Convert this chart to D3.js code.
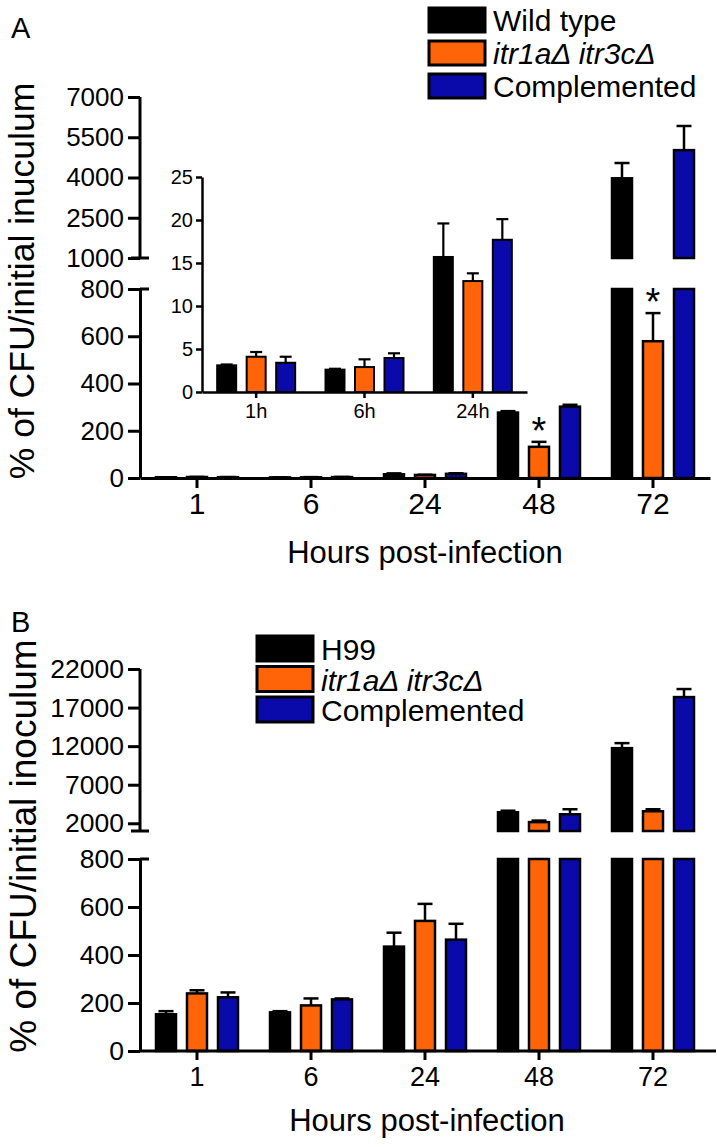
<!DOCTYPE html>
<html>
<head>
<meta charset="utf-8">
<script src="https://cdn.jsdelivr.net/npm/d3@7"></script>
<style>
body{margin:0;background:#fff;}
svg{display:block;font-family:"Liberation Sans",Arial,Helvetica,sans-serif;}
</style>
</head>
<body>
<svg id="chart" width="717" height="1147"></svg>
<script>
//CFU survival bar charts with broken y axis (panel A + inset, panel B)

//x categories
var hours = ["1","6","24","48","72"];
var insetHours = ["1h","6h","24h"];
var barColors = ["#000000","#FF6508","#0A0AAA"];

//panel A : % of CFU / initial inoculum
var namesA = ["Wild type","itr1a\u0394 itr3c\u0394","Complemented"];
var wtA      = [3.1, 2.6, 15.7, 277, 3970];
var wtErrA   = [0.1, 0.1, 3.9, 6, 570];
var mutA     = [4.1, 2.9, 12.9, 132, 579];
var mutErrA  = [0.55, 0.9, 0.9, 21, 119];
var compA    = [3.4, 3.95, 17.7, 302, 5020];
var compErrA = [0.7, 0.55, 2.4, 8, 900];
var lowTicksA  = [0, 200, 400, 600, 800];
var highTicksA = [1000, 2500, 4000, 5500, 7000];
var insetTicks = [0, 5, 10, 15, 20, 25];
var starsA = ["48", "72"];   //significant mutant bars

//panel B
var namesB = ["H99","itr1a\u0394 itr3c\u0394","Complemented"];
var wtB      = [153, 161, 435, 3430, 11740];
var wtErrB   = [13, 5, 58, 200, 650];
var mutB     = [240, 190, 542, 2150, 3560];
var mutErrB  = [13, 29, 71, 200, 260];
var compB    = [224, 215, 464, 3170, 18360];
var compErrB = [20, 4, 66, 650, 1040];
var lowTicksB  = [0, 200, 400, 600, 800];
var highTicksB = [2000, 7000, 12000, 17000, 22000];

var svg = d3.select("#chart");
var fmt = d3.format("d");

//shared x scales
var xMain = d3.scaleBand().domain(hours).range([140, 710]);
var xSub = d3.scaleBand().domain([0,1,2]).range([-41, 41]).paddingInner(0.355);

//draw bars + error bars (value may cross the axis break)
function drawBars(g, x, sub, cats, series, yLow, yHigh, lowMax, highMin, opt) {
	series.forEach(function(s, si) {
		cats.forEach(function(c, i) {
			var v = s.vals[i], e = s.errs[i];
			var bx = x(c) + x.bandwidth() / 2 + sub(si);
			var bw = sub.bandwidth();
			var ys = (yHigh && v > highMin) ? yHigh : yLow;
			var top = ys(v + e);
			//error bar (upper half only)
			g.append("line")
			.attr("x1", bx + bw / 2).attr("x2", bx + bw / 2)
			.attr("y1", ys(v)).attr("y2", top)
			.attr("stroke", "#000").attr("stroke-width", opt.ew);
			g.append("line")
			.attr("x1", bx + bw / 2 - opt.cap).attr("x2", bx + bw / 2 + opt.cap)
			.attr("y1", top).attr("y2", top)
			.attr("stroke", "#000").attr("stroke-width", opt.ew);
			//lower part
			var lv = lowMax == null ? v : Math.min(v, lowMax);
			g.append("rect")
			.attr("x", bx).attr("width", bw)
			.attr("y", yLow(lv)).attr("height", yLow(0) - yLow(lv))
			.attr("fill", s.color).attr("stroke", "#000").attr("stroke-width", opt.sw);
			//upper part
			if (yHigh && v > highMin) {
				g.append("rect")
				.attr("x", bx).attr("width", bw)
				.attr("y", yHigh(v)).attr("height", yHigh(highMin) - yHigh(v))
				.attr("fill", s.color).attr("stroke", "#000").attr("stroke-width", opt.sw);
			}
		});
	});
}

function styleAxis(sel, fs, sw) {
	sel.selectAll("path,line").attr("stroke", "#000").attr("stroke-width", sw);
	sel.selectAll("text").attr("fill", "#000").style("font-size", fs + "px");
}

//broken y axis with both segments
function drawBrokenY(g, yLow, yHigh, lowTicks, highTicks, highMin, fs) {
	var a1 = g.append("g").attr("transform", "translate(140,0)")
	.call(d3.axisLeft(yLow).tickValues(lowTicks).tickFormat(fmt).tickSize(12).tickSizeOuter(0).tickPadding(4));
	styleAxis(a1, fs, 3);
	var a2 = g.append("g").attr("transform", "translate(140,0)")
	.call(d3.axisLeft(yHigh).tickValues(highTicks).tickFormat(fmt).tickSize(12).tickSizeOuter(0).tickPadding(4));
	a2.select(".domain").attr("d", "M0," + yHigh(highMin) + "V" + yHigh.range()[1]);
	styleAxis(a2, fs, 3);
	//break caps
	var lowTop = yLow(yLow.domain()[1]);
	g.append("line").attr("x1", 140).attr("x2", 149).attr("y1", lowTop).attr("y2", lowTop)
	.attr("stroke", "#000").attr("stroke-width", 3);
	g.append("line").attr("x1", 131).attr("x2", 149)
	.attr("y1", yHigh(highMin)).attr("y2", yHigh(highMin))
	.attr("stroke", "#000").attr("stroke-width", 3);
}

function drawLegend(g, names, x, y, pitch, h, fs) {
	names.forEach(function(n, i) {
		g.append("rect").attr("x", x).attr("y", y + i * pitch).attr("width", 56).attr("height", h)
		.attr("fill", barColors[i]).attr("stroke", "#000").attr("stroke-width", 3);
		g.append("text").attr("x", x + 64).attr("y", y + i * pitch + h - 1)
		.style("font-size", fs + "px").style("font-style", i == 1 ? "italic" : "normal")
		.text(n);
	});
}

/* ---------------- panel A ---------------- */
var gA = svg.append("g");
var yLowA = d3.scaleLinear().domain([0, 800]).range([478, 289]);
var yHighA = d3.scaleLinear().domain([1000, 7000]).range([258, 97]);
var seriesA = [
	{vals: wtA, errs: wtErrA, color: barColors[0]},
	{vals: mutA, errs: mutErrA, color: barColors[1]},
	{vals: compA, errs: compErrA, color: barColors[2]}
];

gA.append("text").attr("x", 11).attr("y", 38).style("font-size", "29px").text("A");

drawBars(gA, xMain, xSub, hours, seriesA, yLowA, yHighA, 800, 1000, {sw: 2.5, ew: 2.5, cap: 7.5});
drawBrokenY(gA, yLowA, yHighA, lowTicksA, highTicksA, 1000, 26);

var xAxA = gA.append("g").attr("transform", "translate(0,478)")
.call(d3.axisBottom(xMain).tickSize(10).tickPadding(5).tickSizeOuter(0));
styleAxis(xAxA, 30, 3);

//stars
starsA.forEach(function(h) {
	var i = hours.indexOf(h);
	var v = mutA[i], e = mutErrA[i];
	var ys = v > 1000 ? yHighA : yLowA;
	gA.append("text")
	.attr("x", xMain(h) + xMain.bandwidth() / 2).attr("y", ys(v + e) + 2)
	.attr("text-anchor", "middle").style("font-size", "38px").text("*");
});

gA.append("text").attr("x", 425).attr("y", 563).attr("text-anchor", "middle")
.style("font-size", "31px").text("Hours post-infection");
gA.append("text").attr("transform", "translate(34,281) rotate(-90)").attr("text-anchor", "middle")
.style("font-size", "35.5px").text("% of CFU/initial inuculum");

drawLegend(gA, namesA, 429, 8, 33, 24, 30);

//inset
var gI = gA.append("g");
var xIn = d3.scaleBand().domain(insetHours).range([202, 527]);
var xInSub = d3.scaleBand().domain([0,1,2]).range([-39, 39]).paddingInner(0.356);
var yIn = d3.scaleLinear().domain([0, 25]).range([392, 177]);
var insetSeries = seriesA.map(function(s) {
	return {vals: s.vals.slice(0, 3), errs: s.errs.slice(0, 3), color: s.color};
});
drawBars(gI, xIn, xInSub, insetHours, insetSeries, yIn, null, null, null, {sw: 2, ew: 2.2, cap: 6});
var iy = gI.append("g").attr("transform", "translate(202,0)")
.call(d3.axisLeft(yIn).tickValues(insetTicks).tickSize(6).tickSizeOuter(0).tickPadding(3));
styleAxis(iy, 20, 2.5);
var ix = gI.append("g").attr("transform", "translate(0,392)")
.call(d3.axisBottom(xIn).tickSize(6).tickPadding(6).tickSizeOuter(0));
styleAxis(ix, 20, 2.5);

/* ---------------- panel B ---------------- */
var gB = svg.append("g");
var yLowB = d3.scaleLinear().domain([0, 800]).range([1051, 859]);
var yHighB = d3.scaleLinear().domain([1000, 22000]).range([831, 669]);
var seriesB = [
	{vals: wtB, errs: wtErrB, color: barColors[0]},
	{vals: mutB, errs: mutErrB, color: barColors[1]},
	{vals: compB, errs: compErrB, color: barColors[2]}
];

gB.append("text").attr("x", 11).attr("y", 632).style("font-size", "29px").text("B");

drawBars(gB, xMain, xSub, hours, seriesB, yLowB, yHighB, 800, 1000, {sw: 2.5, ew: 2.5, cap: 7.5});
drawBrokenY(gB, yLowB, yHighB, lowTicksB, highTicksB, 1000, 26.5);

var xAxB = gB.append("g").attr("transform", "translate(0,1051)")
.call(d3.axisBottom(xMain).tickSize(9).tickPadding(7).tickSizeOuter(0));
xAxB.select(".domain").attr("d", "M140,0H716");
styleAxis(xAxB, 27, 3);

gB.append("text").attr("x", 427).attr("y", 1131).attr("text-anchor", "middle")
.style("font-size", "31px").text("Hours post-infection");
gB.append("text").attr("transform", "translate(36,846) rotate(-90)").attr("text-anchor", "middle")
.style("font-size", "37px").text("% of CFU/initial inoculum");

drawLegend(gB, namesB, 257, 636, 30.5, 25, 30);
</script>
</body>
</html>
